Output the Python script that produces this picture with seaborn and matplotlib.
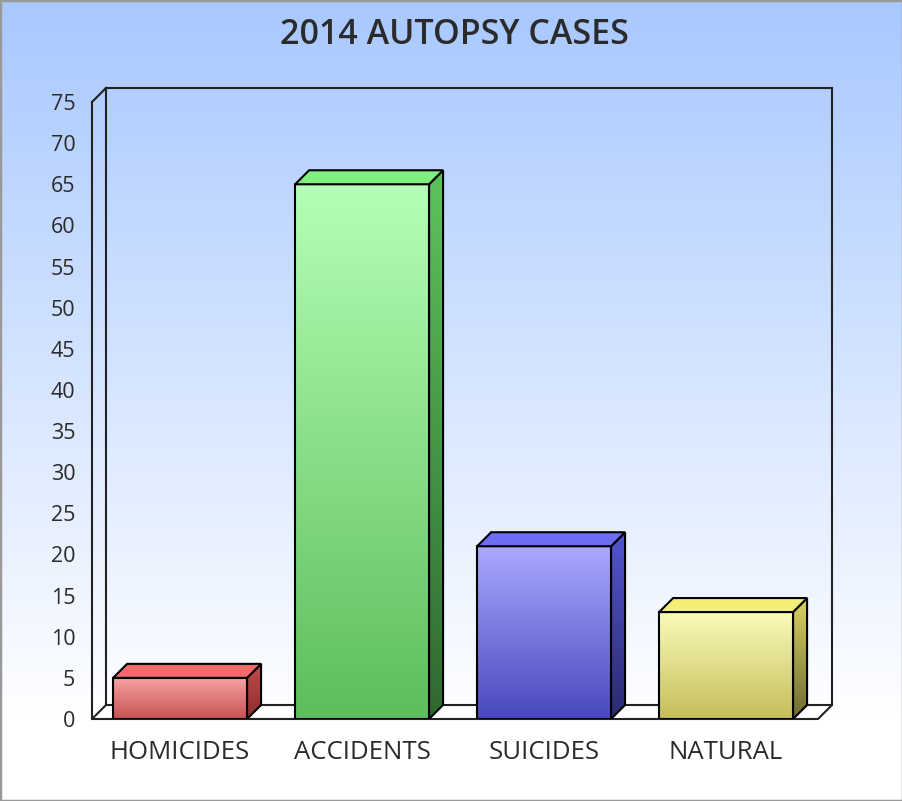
import numpy as np
import matplotlib
matplotlib.use("Agg")
import matplotlib.pyplot as plt
import seaborn as sns
from matplotlib.colors import LinearSegmentedColormap
from matplotlib.patches import Polygon, Rectangle

# data
categories = ["HOMICIDES", "ACCIDENTS", "SUICIDES", "NATURAL"]
cases = [5, 65, 21, 13]
y_ticks = list(range(0, 80, 5))

# colours per bar: front top/bottom, top face, side top/bottom
front_top = ["#f7a4a4", "#b6ffb6", "#a9a9ff", "#fbfbba"]
front_bottom = ["#c65252", "#5cbe5c", "#4848bf", "#c4be5a"]
top_face = ["#f26a6a", "#80ef80", "#6e6ef4", "#f2ee76"]
side_top = ["#c44a4a", "#5cc45c", "#5454d2", "#d8d262"]
side_bottom = ["#8a2e2e", "#306830", "#2a2a72", "#6e6a30"]

plt.rcParams["font.family"] = ["Open Sans", "DejaVu Sans"]
text_col = "#2b2b2b"
depth_px = 14
edge_lw = 1.5

fig = plt.figure(figsize=(9.03, 8.01), dpi=100)

# background gradient (blue at top fading to white)
bg = fig.add_axes([0, 0, 1, 1], zorder=-1)
bg_cmap = LinearSegmentedColormap.from_list("bg", ["#a8c8ff", "#ffffff"])
bg.imshow(np.linspace(0, 1, 256).reshape(-1, 1), cmap=bg_cmap, aspect="auto",
          extent=[0, 1, 0.1, 1], origin="upper")
bg.set_xlim(0, 1)
bg.set_ylim(0, 1)
bg.axis("off")

ax = fig.add_axes([92 / 903, 1 - 719 / 801, (818 - 92) / 903, (719 - 102) / 801])
ax.set_facecolor("none")

sns.barplot(x=categories, y=cases, hue=categories, palette=front_bottom,
            width=0.736, legend=False, edgecolor="black", linewidth=edge_lw, ax=ax)

xmin, xmax = -0.484, 3.505
ax.set_xlim(xmin, xmax)
ax.set_ylim(0, 75)

# depth offset in data units
inv = ax.transData.inverted()
p0 = ax.transData.transform((0, 0))
dx, dy = inv.transform(p0 + depth_px) - inv.transform(p0)

grad = np.linspace(0, 1, 256).reshape(-1, 1)

# floor and walls
floor = Polygon([(xmin, 0), (xmax, 0), (xmax + dx, dy), (xmin + dx, dy)],
                closed=True, facecolor="white", edgecolor="#222222", lw=edge_lw,
                zorder=1, clip_on=False)
ax.add_patch(floor)
wall_kw = dict(color="#222222", lw=edge_lw, zorder=1, clip_on=False)
ax.plot([xmin, xmin], [0, 75], **wall_kw)
ax.plot([xmin + dx, xmin + dx], [dy, 75 + dy], **wall_kw)
ax.plot([xmin, xmin + dx], [75, 75 + dy], **wall_kw)
ax.plot([xmin + dx, xmax + dx], [75 + dy, 75 + dy], **wall_kw)
ax.plot([xmax + dx, xmax + dx], [dy, 75 + dy], **wall_kw)

bars = sorted(ax.patches[:len(categories)], key=lambda p: p.get_x())
for i, bar in enumerate(bars):
    x, w, h = bar.get_x(), bar.get_width(), bar.get_height()
    bar.set_facecolor("none")
    bar.set_zorder(4)

    # front face gradient
    cm = LinearSegmentedColormap.from_list(f"f{i}", [front_top[i], front_bottom[i]])
    im = ax.imshow(grad, cmap=cm, aspect="auto", extent=[x, x + w, 0, h],
                   origin="upper", zorder=3)
    im.set_clip_path(bar)

    # side face
    side = Polygon([(x + w, 0), (x + w + dx, dy), (x + w + dx, h + dy), (x + w, h)],
                   closed=True, facecolor="none", edgecolor="black", lw=edge_lw, zorder=4)
    ax.add_patch(side)
    cm_s = LinearSegmentedColormap.from_list(f"s{i}", [side_top[i], side_bottom[i]])
    im_s = ax.imshow(grad, cmap=cm_s, aspect="auto",
                     extent=[x + w, x + w + dx, 0, h + dy], origin="upper", zorder=3)
    im_s.set_clip_path(side)

    # top face
    top = Polygon([(x, h), (x + w, h), (x + w + dx, h + dy), (x + dx, h + dy)],
                  closed=True, facecolor=top_face[i], edgecolor="black", lw=edge_lw, zorder=4)
    ax.add_patch(top)

ax.set_xlim(xmin, xmax)
ax.set_ylim(0, 75)
ax.set_yticks(y_ticks)
ax.set_yticklabels([str(t) for t in y_ticks])
ax.tick_params(axis="both", length=0, colors=text_col)
ax.tick_params(axis="y", pad=12, labelsize=15.5)
ax.tick_params(axis="x", pad=15, labelsize=18.5)
for s in ax.spines.values():
    s.set_visible(False)
ax.set_xlabel("")
ax.set_ylabel("")

fig.text(454 / 903, 1 - 35 / 801, "2014 AUTOPSY CASES", ha="center", va="center",
         fontsize=24.5, fontweight="semibold", color=text_col)

fig.add_artist(Rectangle((0, 0), 1, 1, transform=fig.transFigure, fill=False,
                         edgecolor="#999999", lw=2.5))

fig.savefig("out.png", dpi=100)
